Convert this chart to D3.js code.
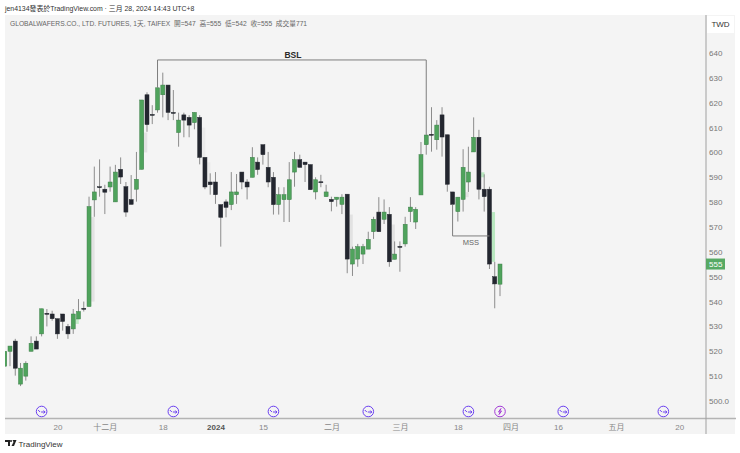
<!DOCTYPE html>
<html>
<head>
<meta charset="utf-8">
<script src="https://cdn.jsdelivr.net/npm/d3@7"></script>
<style>
	html, body { margin: 0; padding: 0; background: #fff; }
	text { font-family: "Liberation Sans", "Noto Sans CJK TC", sans-serif; white-space: pre; }
</style>
</head>
<body>
<script>
// candles, index = bar number from the left edge
var opens = [514,520,524.1,506.8,510,520,524.1,527,535.3,535,533.1,535,530,529,533,537.3,538,580.9,586.2,585.2,586.1,580.1,593.2,586.2,581,585.2,593.2,623.2,615.3,617.1,623.2,627.1,616.1,608,615.1,614.1,612,614.1,598,588.1,588.1,579,580.1,579,583,592.1,588.1,590,596.1,603.1,594,590,579,581,581,592.1,597.1,596.1,595.1,584.1,588.2,582.2,581.1,581.1,579.1,583.2,555.1,557.1,559.1,561.1,568.1,576,573.1,575.1,557,562.2,563.2,576.2,572,582.9,603.1,607.3,605.1,615.1,607.1,584.1,576.2,581.1,588.1,600.2,606.1,585.2,585.2,550,547];
var highs = [520,522.1,525,515.3,516,526,526,537.1,537,536.3,533.1,535,531,537,541,540,582.2,594.3,597.2,587,594.3,595,598,588.1,590.9,600.2,621.1,624.2,619,626,632.1,627.1,625.1,616,616,615,616.1,615,598,591.6,592.1,579,581.1,592.1,591.3,592.1,589.2,602.1,598,603.1,600.2,592.1,586,586,596.1,600.2,599.1,596.1,595.1,590,591,587,582.2,582,583.2,583.2,562.1,563.2,563.2,568.1,574.1,582,581.1,578,564.2,564.2,574.1,582,578,604.2,607,618.2,613,618.2,607.1,584.1,582,601.3,602.3,614.1,609.1,591.2,586.2,556,555];
var lows = [514,514,510.2,506,508.2,520,520.9,526,530,532.3,525,528.3,525,527,533,536,538,574.1,582.2,575.2,584.2,580.1,587.3,574.1,579.1,580.2,593.2,608.3,611.4,616,614.1,613,613,602.3,606.1,606.1,609.3,595.2,585.2,583,579.3,562.1,573.9,576.8,579.3,585.2,581.1,590,591,595.1,586,575,575,572,572,586.2,594,588.1,585,581.1,586,582.2,576.3,578.2,575.2,551.4,550.3,554,555.1,561.1,565.2,568.1,571.2,554,557,552,562.1,572,569.2,582.9,599.1,600.3,601.1,598.3,584.2,579.1,572.2,576.2,584.1,600.2,581.1,576.2,553.1,537.3,542.2];
var closes = [520,522.1,513.2,513.2,515.2,523.2,520.9,537.1,535.3,533.1,527,532,527,535,536,537.3,578.2,584.1,586.2,584,588.1,592.1,590.1,576,579.1,589.2,621.1,611.2,615.3,626,627.1,616.1,616.1,613,613,611,616.1,598,586.1,587,583,573.9,577.9,584.1,584.1,588.1,586.1,598,593.1,599.1,588.1,579,583,583,589,597.1,594,595.1,585,589,588.2,584.1,580.2,582,582,557.1,561.1,562.1,562.1,565,573.1,568.1,576,556,559.1,562.2,571.1,578,577.1,599.1,607,607.3,611,606.2,587.2,579.1,582,594,592.1,606.1,585.2,582.2,555.1,547.1,555.1];

var priceTicks = [640,630,620,610,600,590,580,570,560,550,540,530,520,510,500];
var timeTickIndex = [10,19,30,40,49,62,75,86,96,105,116,128];
var timeTickLabel = ["20","十二月","18","2024","15","二月","三月","18","四月","16","五月","20"];
var splitIndex = [7,32,51,69,88,106,125];
var earningsIndex = [94];

// faint shaded gaps: bar index, top price, bottom price, colour
var gapIndex = [14,17,27,38,39,66,74,88,91,93];
var gapTop = [533,574,608,610,596,575,571,584,592,576];
var gapBottom = [531,540,600,598,588,561,559,582,590,556];
var gapColor = ["#c4ecca","#e2e2e2","#e2e2e2","#ebebeb","#ebebeb","#e2e2e2","#e2e2e2","#e2e2e2","#b9e8c0","#b9e8c0"];

var width = 740, height = 453;
var panel = { left: 5, right: 706, top: 15, bottom: 434, timeLine: 418.5 };

var svg = d3.select("body").append("svg")
	.attr("width", width)
	.attr("height", height)
	.style("display", "block");

var x = d3.scaleLinear().domain([0, 94]).range([4.73, 500]);
var y = d3.scaleLinear().domain([500, 640]).range([401, 53]);

svg.append("rect")
	.attr("x", panel.left).attr("y", panel.top)
	.attr("width", 730).attr("height", panel.bottom - panel.top)
	.attr("fill", "#f4f4f4");

svg.append("defs").append("clipPath").attr("id", "plot")
	.append("rect")
	.attr("x", panel.left).attr("y", panel.top)
	.attr("width", panel.right - panel.left)
	.attr("height", panel.timeLine - panel.top);

var plot = svg.append("g").attr("clip-path", "url(#plot)");

plot.selectAll("rect.gap")
	.data(gapIndex)
	.enter()
	.append("rect")
	.attr("class", "gap")
	.attr("x", function(d) { return x(d) - 3; })
	.attr("width", 3.3)
	.attr("y", function(d, i) { return y(gapTop[i]); })
	.attr("height", function(d, i) { return y(gapBottom[i]) - y(gapTop[i]); })
	.attr("fill", function(d, i) { return gapColor[i]; });

var bars = d3.range(opens.length);
var green = "#4fa35c", greenEdge = "#3c7f49", dark = "#23262f";

plot.selectAll("line.wick")
	.data(bars)
	.enter()
	.append("line")
	.attr("class", "wick")
	.attr("x1", function(d) { return x(d); })
	.attr("x2", function(d) { return x(d); })
	.attr("y1", function(d) { return y(highs[d]); })
	.attr("y2", function(d) { return y(lows[d]); })
	.attr("stroke", "#8c8c8c")
	.attr("stroke-width", 1);

plot.selectAll("rect.body")
	.data(bars)
	.enter()
	.append("rect")
	.attr("class", "body")
	.attr("x", function(d) { return x(d) - 2; })
	.attr("width", 4)
	.attr("y", function(d) { return y(Math.max(opens[d], closes[d])); })
	.attr("height", function(d) { return Math.max(1, Math.abs(y(opens[d]) - y(closes[d]))); })
	.attr("fill", function(d) { return closes[d] > opens[d] ? green : dark; })
	.attr("stroke", function(d) { return closes[d] > opens[d] ? greenEdge : dark; })
	.attr("stroke-width", 0.5);

// annotations
var note = "#7d7d7d";
var bsl = d3.line().x(function(d) { return x(d[0]); }).y(function(d) { return y(d[1]); });
plot.append("path")
	.attr("d", bsl([[29, 626], [29, 637.2], [80, 637.2], [80, 607]]))
	.attr("fill", "none").attr("stroke", note).attr("stroke-width", 1);
plot.append("path")
	.attr("d", bsl([[85, 579], [85, 566.4], [92, 566.4]]))
	.attr("fill", "none").attr("stroke", note).attr("stroke-width", 1);
svg.append("text").text("BSL")
	.attr("x", x(54.7)).attr("y", y(637.2) - 2)
	.attr("text-anchor", "middle")
	.attr("font-size", 8.5).attr("font-weight", "bold").attr("fill", "#2a2a2a");
svg.append("text").text("MSS")
	.attr("x", 471).attr("y", 244.5)
	.attr("text-anchor", "middle")
	.attr("font-size", 7.5).attr("fill", "#666");

// event markers on the time axis
var markerY = 411.5;
var markers = svg.selectAll("g.marker")
	.data(splitIndex.concat(earningsIndex))
	.enter()
	.append("g")
	.attr("class", "marker")
	.attr("transform", function(d) { return "translate(" + x(d) + "," + markerY + ")"; });
markers.append("circle")
	.attr("r", 5.3)
	.attr("fill", "#f4f4f4")
	.attr("stroke", function(d) { return earningsIndex.indexOf(d) >= 0 ? "#a33bd6" : "#6a3ff0"; })
	.attr("stroke-width", 1);
markers.append("path")
	.attr("d", function(d) {
		return earningsIndex.indexOf(d) >= 0
			? "M1,-3L-1.5,0.5H0.5L-1,3L1.5,-0.5H-0.5Z"
			: "M-3.5,-1.5L-1.5,0.5M-0.5,0.5H3.5M2,-1L3.5,0.5L2,2";
	})
	.attr("fill", "none")
	.attr("stroke", function(d) { return earningsIndex.indexOf(d) >= 0 ? "#a33bd6" : "#6a3ff0"; })
	.attr("stroke-width", 1);

// axes
svg.append("rect")
	.attr("x", panel.left).attr("y", panel.timeLine - 0.75)
	.attr("width", panel.right - panel.left + 30).attr("height", 1.5)
	.attr("fill", "#b4b4b4");
svg.append("rect")
	.attr("x", panel.right - 0.5).attr("y", panel.top)
	.attr("width", 1).attr("height", panel.bottom - panel.top)
	.attr("fill", "#a0a0a0");

var yAxis = d3.axisRight(y)
	.tickValues(priceTicks)
	.tickSize(0)
	.tickPadding(3)
	.tickFormat(function(d) { return d == 500 ? "500.0" : String(d); });
var yG = svg.append("g").attr("transform", "translate(" + panel.right + ",0)").call(yAxis);
yG.select(".domain").remove();
yG.selectAll("text").attr("font-size", 8).attr("fill", "#777").style("font-family", null);

var xAxis = d3.axisBottom(x)
	.tickValues(timeTickIndex)
	.tickSize(0)
	.tickPadding(3)
	.tickFormat(function(d) { return timeTickLabel[timeTickIndex.indexOf(d)]; });
var xG = svg.append("g").attr("transform", "translate(0," + (panel.timeLine + 2.5) + ")").call(xAxis);
xG.select(".domain").remove();
xG.selectAll("text")
	.attr("font-size", 8)
	.attr("fill", function(d) { return d == 40 ? "#555" : "#888"; })
	.attr("font-weight", function(d) { return d == 40 ? "bold" : "normal"; })
	.style("font-family", null);

// currency box and last price tag
svg.append("rect").attr("x", 707).attr("y", 16).attr("width", 27).attr("height", 17).attr("fill", "#fff");
svg.append("text").text("TWD")
	.attr("x", 720.5).attr("y", 27)
	.attr("text-anchor", "middle").attr("font-size", 8).attr("fill", "#333");
var lastClose = closes[closes.length - 1];
svg.append("rect")
	.attr("x", panel.right).attr("y", y(lastClose) - 5.5)
	.attr("width", 19).attr("height", 11)
	.attr("fill", "#57a964");
svg.append("text").text(String(Math.round(lastClose)))
	.attr("x", panel.right + 3).attr("y", y(lastClose) + 3)
	.attr("font-size", 8).attr("fill", "#fff");

// header and footer
svg.append("text").text("jen4134發表於TradingView.com · 三月 28, 2024 14:43 UTC+8")
	.attr("x", 5).attr("y", 11)
	.attr("font-size", 6.9).attr("fill", "#333");
svg.append("text").text("GLOBALWAFERS.CO., LTD. FUTURES, 1天, TAIFEX  開=547  高=555  低=542  收=555  成交量771")
	.attr("x", 10).attr("y", 26)
	.attr("font-size", 6.7).attr("fill", "#666");
svg.append("path")
	.attr("d", "M5,440H10V446H8V442H5ZM12.5,440H16.5L14,446H11.5L13.5,442Z")
	.attr("fill", "#222");
svg.append("circle").attr("cx", 11).attr("cy", 441).attr("r", 1).attr("fill", "#222");
svg.append("text").text("TradingView")
	.attr("x", 18.5).attr("y", 447)
	.attr("font-size", 8).attr("fill", "#333");
</script>
</body>
</html>
